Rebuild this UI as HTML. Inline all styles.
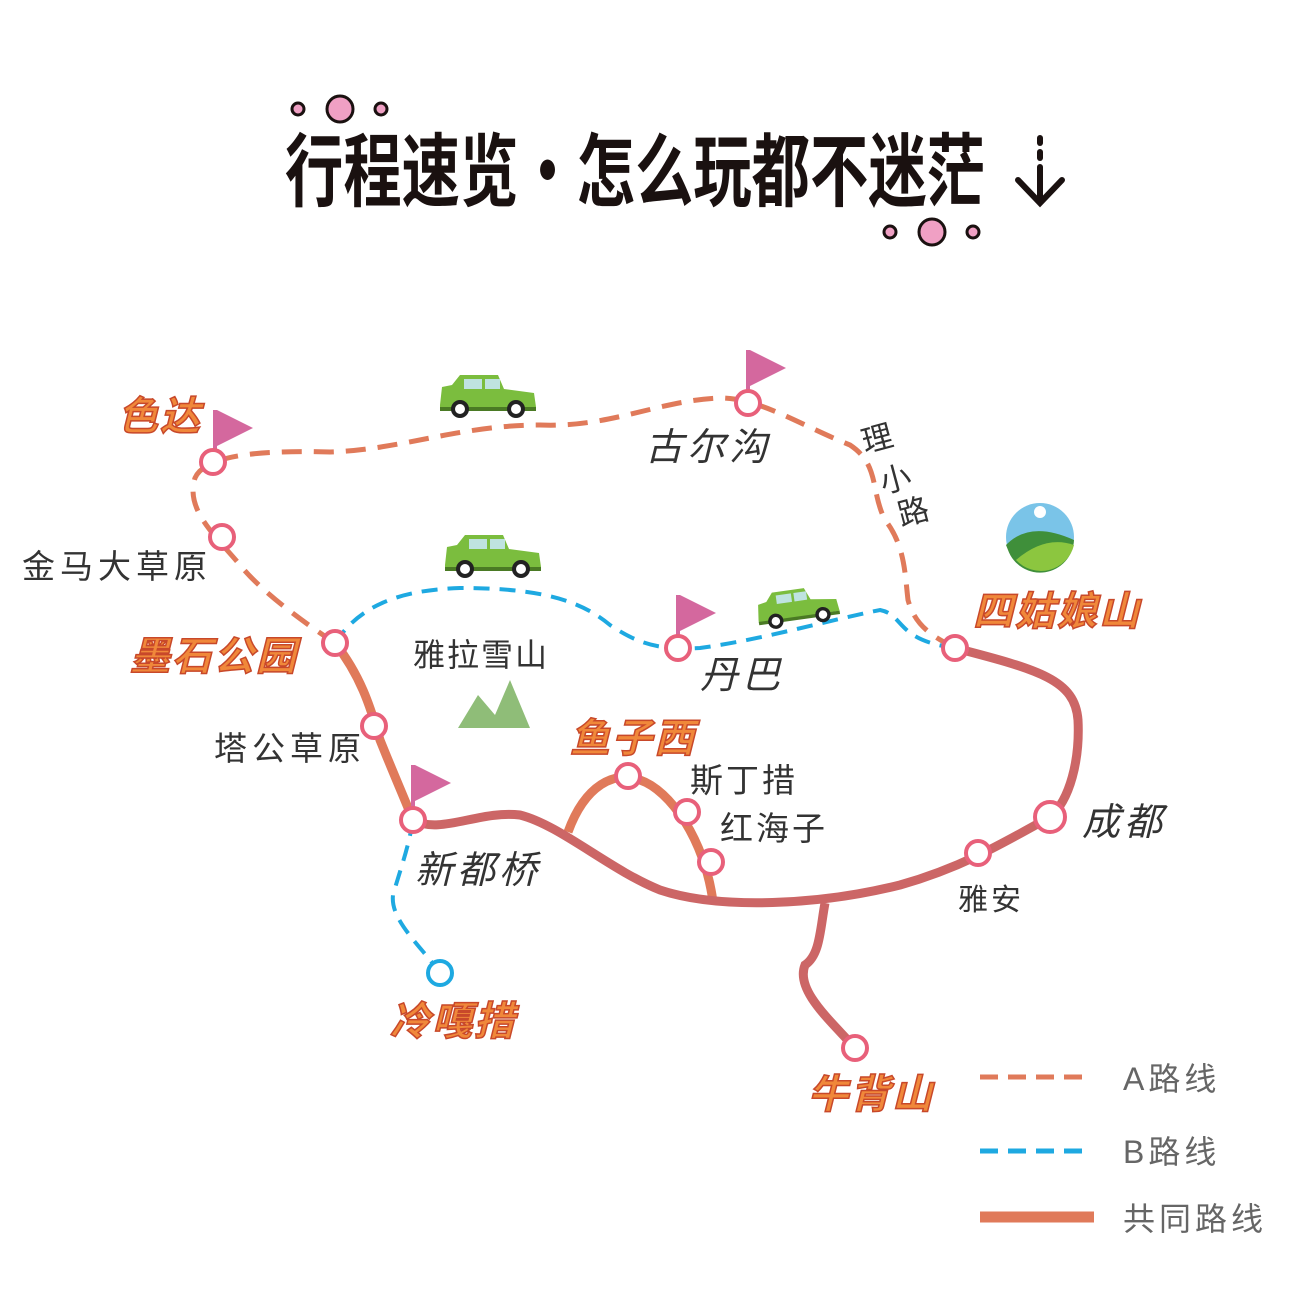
<!DOCTYPE html>
<html><head><meta charset="utf-8">
<style>html,body{margin:0;padding:0;background:#fff}svg{display:block}</style></head>
<body>
<svg width="1295" height="1295" viewBox="0 0 1295 1295" xmlns="http://www.w3.org/2000/svg" font-family="'Liberation Sans','Noto Sans CJK SC',sans-serif">
<rect width="1295" height="1295" fill="#fff"/>
<g stroke="#1a1110" stroke-width="3" fill="#f0a0c4">
<circle cx="298" cy="109" r="6"/><circle cx="340" cy="109" r="13"/><circle cx="381" cy="109" r="6"/>
<circle cx="890" cy="232" r="6"/><circle cx="932" cy="232" r="13"/><circle cx="973" cy="232" r="6"/>
</g>
<text x="285" y="200" font-size="80" font-weight="bold" fill="#1a1110" textLength="700" lengthAdjust="spacingAndGlyphs" font-family="'Noto Sans CJK SC',sans-serif">行程速览·怎么玩都不迷茫</text>
<g stroke="#1a1110" stroke-width="6" fill="none" stroke-linecap="round">
<line x1="1040" y1="138" x2="1040" y2="143"/><line x1="1040" y1="152" x2="1040" y2="158"/><line x1="1040" y1="167" x2="1040" y2="200"/>
<polyline points="1018,180 1040,203 1062,180"/>
</g>
<g fill="none" stroke-linecap="butt">
<path d="M335,643 C300,620 260,590 240,565 C215,535 185,510 195,478 C205,455 260,450 330,452 C400,450 460,425 540,425 C610,428 660,400 720,398 C760,398 800,425 850,445 C880,465 870,490 885,520 C905,545 905,575 908,600 C915,625 930,635 955,648" stroke="#e07a5a" stroke-width="5" stroke-dasharray="20,12"/>
<path d="M335,643 C360,605 400,590 460,588 C540,588 580,600 610,625 C640,645 660,650 700,648 C760,640 830,620 880,610 C905,615 895,640 955,648" stroke="#1ea9e1" stroke-width="4" stroke-dasharray="16,10"/>
<path d="M413,820 C408,850 400,870 393,895 C390,920 420,945 440,973" stroke="#1ea9e1" stroke-width="4" stroke-dasharray="16,10"/>
<path d="M335,643 C360,675 370,705 380,740 C392,770 405,800 413,820" stroke="#e07a5a" stroke-width="9"/>
<path d="M568,832 C585,785 615,770 640,780 C670,790 705,840 713,902" stroke="#e07a5a" stroke-width="9"/>
<path d="M413,820 C440,835 480,810 520,815 C560,825 610,870 660,890 C720,910 820,905 900,885 C960,868 1000,845 1050,817 C1070,800 1080,760 1078,720 C1075,680 1040,670 955,648" stroke="#cc6666" stroke-width="9"/>
<path d="M825,903 C820,930 820,955 805,965 C795,990 830,1020 855,1048" stroke="#cc6666" stroke-width="9"/>
</g>
<g fill="#d4689e">
<rect x="213" y="410" width="4" height="52"/><polygon points="217,410 253,428 217,446"/>
<rect x="746" y="350" width="4" height="53"/><polygon points="750,350 786,368 750,386"/>
<rect x="676" y="595" width="4" height="53"/><polygon points="680,595 716,613 680,631"/>
<rect x="411" y="765" width="4" height="55"/><polygon points="415,765 451,783 415,801"/>
</g>
<g fill="#fff" stroke="#e8607a" stroke-width="4">
<circle cx="213" cy="462" r="12"/><circle cx="222" cy="537" r="12"/><circle cx="335" cy="643" r="12"/>
<circle cx="374" cy="726" r="12"/><circle cx="413" cy="820" r="12"/><circle cx="748" cy="403" r="12"/>
<circle cx="678" cy="648" r="12"/><circle cx="955" cy="648" r="12"/><circle cx="628" cy="776" r="12"/>
<circle cx="687" cy="812" r="12"/><circle cx="711" cy="862" r="12"/><circle cx="1050" cy="817" r="15"/>
<circle cx="978" cy="853" r="12"/><circle cx="855" cy="1048" r="12"/>
</g>
<circle cx="440" cy="973" r="12" fill="#fff" stroke="#1ea9e1" stroke-width="4"/>
<defs>
<g id="car">
<path d="M0,30 L2,12 L12,10 L20,0 L58,0 L64,14 L94,18 L96,32 L0,34 Z" fill="#7bbd3e"/>
<rect x="24" y="4" width="18" height="10" fill="#bfe3e0"/><rect x="45" y="4" width="15" height="10" fill="#bfe3e0"/>
<rect x="0" y="32" width="96" height="4" fill="#4a7a24"/>
<circle cx="20" cy="34" r="9" fill="#222"/><circle cx="20" cy="34" r="5" fill="#fff"/>
<circle cx="76" cy="34" r="9" fill="#222"/><circle cx="76" cy="34" r="5" fill="#fff"/>
</g>
</defs>
<use href="#car" x="440" y="375"/>
<use href="#car" x="445" y="535"/>
<use href="#car" transform="translate(755,595) scale(0.85) rotate(-8)"/>
<polygon points="458,728 478,695 495,715 510,680 530,728" fill="#8fbd78"/>
<circle cx="1040" cy="537" r="34" fill="#7ac4e8"/>
<path d="M1006,545 Q1030,520 1074,540 A34,34 0 0 1 1008,550 Z" fill="#3f8f3a"/>
<path d="M1016,560 Q1045,535 1074,545 A34,34 0 0 1 1016,560 Z" fill="#8cc63f"/>
<circle cx="1040" cy="512" r="6" fill="#fff"/>
<g font-size="33" fill="#333" letter-spacing="5">
<text x="22" y="578">金马大草原</text>
<text x="413" y="666" font-size="32" letter-spacing="2">雅拉雪山</text>
<text x="214" y="760">塔公草原</text>
<text x="690" y="792" letter-spacing="3">斯丁措</text>
<text x="720" y="840" letter-spacing="3">红海子</text>
<text x="958" y="910" font-size="30" letter-spacing="3">雅安</text>
</g>
<g font-size="38" fill="#333" font-style="italic" letter-spacing="4">
<text x="645" y="460">古尔沟</text>
<text x="700" y="688">丹巴</text>
<text x="415" y="883">新都桥</text>
<text x="1082" y="835">成都</text>
</g>
<g font-size="31" fill="#333">
<text x="862" y="450" transform="rotate(-15 875 440)">理</text>
<text x="880" y="490" transform="rotate(-15 895 480)">小</text>
<text x="898" y="523" transform="rotate(-15 912 513)">路</text>
</g>
<g font-size="40" font-weight="bold" font-style="italic" fill="#f0883a" stroke="#c8482a" stroke-width="1.5" font-family="'Noto Sans CJK SC',sans-serif" letter-spacing="2">
<text x="118" y="430">色达</text>
<text x="130" y="670">墨石公园</text>
<text x="570" y="752">鱼子西</text>
<text x="973" y="625">四姑娘山</text>
<text x="390" y="1035">冷嘎措</text>
<text x="808" y="1108">牛背山</text>
</g>
<line x1="980" y1="1077" x2="1090" y2="1077" stroke="#e07a5a" stroke-width="5" stroke-dasharray="18,10"/>
<line x1="980" y1="1151" x2="1090" y2="1151" stroke="#1ea9e1" stroke-width="5" stroke-dasharray="18,10"/>
<line x1="980" y1="1217" x2="1094" y2="1217" stroke="#e07a5a" stroke-width="11"/>
<g font-size="32" fill="#666" letter-spacing="4">
<text x="1123" y="1090">A路线</text>
<text x="1123" y="1163">B路线</text>
<text x="1123" y="1230">共同路线</text>
</g>
</svg>
</body></html>
